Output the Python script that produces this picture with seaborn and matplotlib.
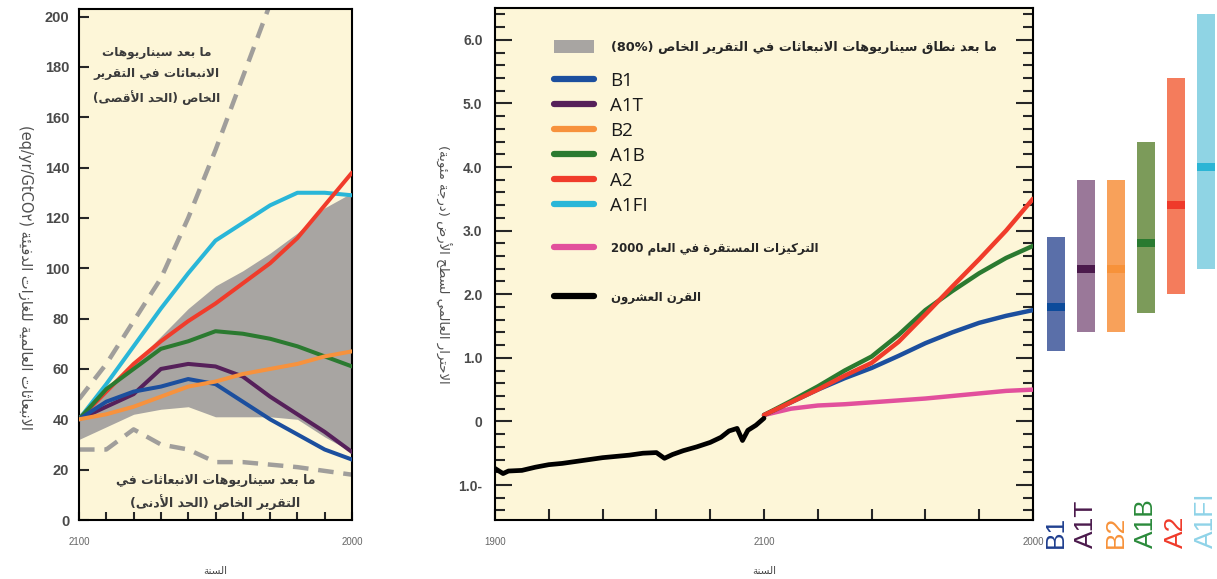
import re
import matplotlib
matplotlib.use("Agg")
import matplotlib.pyplot as plt
import matplotlib.transforms as mtransforms
from matplotlib.lines import Line2D
from matplotlib.patches import Patch
from matplotlib.ticker import MultipleLocator
import numpy as np
import pandas as pd
import seaborn as sns

# ---------------- data: emissions panel (GtCO2-eq / yr) ----------------
em_years = [2000, 2010, 2020, 2030, 2040, 2050, 2060, 2070, 2080, 2090, 2100]
em_A1FI = [40, 54, 69, 84, 98, 111, 118, 125, 130, 130, 129]
em_A2 = [40, 51, 62, 71, 79, 86, 94, 102, 112, 125, 138]
em_A1B = [40, 52, 60, 68, 71, 75, 74, 72, 69, 65, 61]
em_A1T = [40, 45, 50, 60, 62, 61, 57, 49, 42, 35, 27]
em_B1 = [40, 47, 51, 53, 56, 54, 47, 40, 34, 28, 24]
em_B2 = [40, 42, 45, 49, 53, 55, 58, 60, 62, 65, 67]
band_hi = [42, 52, 62, 73, 84, 93, 99, 106, 114, 124, 130]
band_lo = [32, 37, 42, 44, 45, 41, 41, 41, 40, 33, 27]
max_years = [2000, 2010, 2020, 2030, 2040, 2050, 2060, 2070, 2080]
max_vals = [48, 62, 79, 96, 120, 147, 176, 205, 235]
min_vals = [28, 28, 36, 30, 28, 23, 23, 22, 21, 19.5, 18]

# ---------------- data: temperature panel (deg C) ----------------
hist_years = [1900, 1903, 1905, 1910, 1915, 1920, 1925, 1930, 1935, 1940, 1945,
              1950, 1955, 1960, 1963, 1966, 1970, 1975, 1980, 1984, 1987, 1990,
              1992, 1994, 1997, 2000]
hist_temp = [-0.74, -0.82, -0.78, -0.77, -0.72, -0.68, -0.66, -0.63, -0.60, -0.57, -0.55,
             -0.53, -0.50, -0.49, -0.58, -0.52, -0.46, -0.40, -0.33, -0.25, -0.15, -0.11,
             -0.30, -0.14, -0.06, 0.05]
proj_years = [2000, 2010, 2020, 2030, 2040, 2050, 2060, 2070, 2080, 2090, 2100]
proj_B1 = [0.1, 0.3, 0.5, 0.68, 0.84, 1.03, 1.23, 1.4, 1.55, 1.66, 1.75]
proj_A1B = [0.1, 0.32, 0.55, 0.8, 1.02, 1.36, 1.75, 2.05, 2.33, 2.57, 2.76]
proj_A2 = [0.1, 0.3, 0.5, 0.72, 0.92, 1.25, 1.68, 2.12, 2.55, 3.0, 3.5]
proj_commit = [0.1, 0.2, 0.25, 0.27, 0.3, 0.33, 0.36, 0.4, 0.44, 0.48, 0.5]

# ---------------- data: likely ranges at 2100 ----------------
scen_names = ["B1", "A1T", "B2", "A1B", "A2", "A1FI"]
range_low = [1.1, 1.4, 1.4, 1.7, 2.0, 2.4]
range_high = [2.9, 3.8, 3.8, 4.4, 5.4, 6.4]
range_best = [1.8, 2.4, 2.4, 2.8, 3.4, 4.0]

# ---------------- colours ----------------
c_B1, c_A1T, c_B2 = "#1c4f9e", "#56205a", "#f7923d"
c_A1B, c_A2, c_A1FI = "#2b7a30", "#f03c2b", "#29b6d8"
c_pink = "#e2509c"
bar_light = ["#5a6fa9", "#9a7899", "#f8a15a", "#7c9b5a", "#f47c5c", "#8fd4e4"]
bar_dark = ["#0d4b9b", "#4b1a4c", "#f7923a", "#2a7a30", "#ef3a2a", "#2bb5d5"]
label_cols = ["#1f3f8f", "#4b1a4c", "#f7923a", "#2a8a3a", "#ef3a2a", "#8fd3e8"]
bg = "#fdf6d8"
band_col = "#a8a5a2"
dash_col = "#a09e9b"


# ---- small Arabic shaper (matplotlib has no complex text layout) ----
AR_FORMS = {
    'ء': (0xFE80, 1), 'آ': (0xFE81, 2), 'أ': (0xFE83, 2), 'ؤ': (0xFE85, 2), 'إ': (0xFE87, 2),
    'ئ': (0xFE89, 4), 'ا': (0xFE8D, 2), 'ب': (0xFE8F, 4), 'ة': (0xFE93, 2), 'ت': (0xFE95, 4),
    'ث': (0xFE99, 4), 'ج': (0xFE9D, 4), 'ح': (0xFEA1, 4), 'خ': (0xFEA5, 4), 'د': (0xFEA9, 2),
    'ذ': (0xFEAB, 2), 'ر': (0xFEAD, 2), 'ز': (0xFEAF, 2), 'س': (0xFEB1, 4), 'ش': (0xFEB5, 4),
    'ص': (0xFEB9, 4), 'ض': (0xFEBD, 4), 'ط': (0xFEC1, 4), 'ظ': (0xFEC5, 4), 'ع': (0xFEC9, 4),
    'غ': (0xFECD, 4), 'ف': (0xFED1, 4), 'ق': (0xFED5, 4), 'ك': (0xFED9, 4), 'ل': (0xFEDD, 4),
    'م': (0xFEE1, 4), 'ن': (0xFEE5, 4), 'ه': (0xFEE9, 4), 'و': (0xFEED, 2), 'ى': (0xFEEF, 2),
    'ي': (0xFEF1, 4),
}
LAM_ALEF = {'آ': 0xFEF5, 'أ': 0xFEF7, 'إ': 0xFEF9, 'ا': 0xFEFB}
LTR = r'[A-Za-z0-9%.٠-٩]'


def shape_line(s):
    chars = []
    i = 0
    while i < len(s):
        if s[i] == 'ل' and i + 1 < len(s) and s[i + 1] in LAM_ALEF:
            chars.append(('LA', s[i + 1]))
            i += 2
        else:
            chars.append(('C', s[i]))
            i += 1
    res = []
    for k, (kind, c) in enumerate(chars):
        prev = chars[k - 1] if k > 0 else None
        nxt = chars[k + 1] if k + 1 < len(chars) else None
        prev_j = prev is not None and prev[0] == 'C' and AR_FORMS.get(prev[1], (0, 0))[1] == 4
        if kind == 'LA':
            res.append(chr(LAM_ALEF[c] + (1 if prev_j else 0)))
            continue
        if c not in AR_FORMS:
            res.append(c)
            continue
        base, nf = AR_FORMS[c]
        if nf == 1:
            res.append(chr(base))
        elif nf == 2:
            res.append(chr(base + (1 if prev_j else 0)))
        else:
            nxt_j = nxt is not None and (nxt[0] == 'LA' or nxt[1] in AR_FORMS)
            idx = 3 if (prev_j and nxt_j) else 1 if prev_j else 2 if nxt_j else 0
            res.append(chr(base + idx))
    runs = re.findall(LTR + '+|' + r'[^A-Za-z0-9%.٠-٩]', ''.join(res))
    mirror = {'(': ')', ')': '('}
    return ''.join(mirror.get(r, r) for r in reversed(runs))


def ar(s):
    return '\n'.join(shape_line(line) for line in s.split('\n'))


# ---------------- style ----------------
sns.set_style("ticks")
plt.rcParams['font.family'] = ['Liberation Sans', 'DejaVu Sans']
AR_FONT = ['DejaVu Sans']
LAT_FONT = ['Open Sans', 'DejaVu Sans']
tick_col = "#4a4a4a"

fig = plt.figure(figsize=(12.17, 5.79), dpi=100)
W, H = 1217, 579


def px_axes(x0, y0, x1, y1):
    return fig.add_axes([x0 / W, 1 - y1 / H, (x1 - x0) / W, (y1 - y0) / H])


# ================= left panel: emissions =================
ax1 = px_axes(79, 9, 352, 520)
ax1.set_facecolor(bg)
ax1.fill_between(em_years, band_lo, band_hi, color=band_col, lw=0, zorder=1)
sns.lineplot(x=max_years, y=max_vals, ax=ax1, color=dash_col, lw=3.2,
             linestyle=(0, (3.5, 2.2)), zorder=2)
sns.lineplot(x=em_years, y=min_vals, ax=ax1, color=dash_col, lw=3.2,
             linestyle=(0, (3.5, 2.2)), zorder=2)
for vals, col in [(em_A1FI, c_A1FI), (em_A2, c_A2), (em_A1B, c_A1B),
                  (em_A1T, c_A1T), (em_B1, c_B1), (em_B2, c_B2)]:
    sns.lineplot(x=em_years, y=vals, ax=ax1, color=col, lw=2.9, zorder=3)

ax1.set_xlim(2000, 2100)
ax1.set_ylim(0, 203)
ax1.set_yticks(range(0, 201, 20))
ax1.set_xticks(range(2000, 2101, 10))
ax1.set_xticklabels(['2100'] + [''] * 9 + ['2000'])
ax1.tick_params(axis='y', direction='in', length=7, width=1.5, labelsize=10.5,
                labelcolor=tick_col, pad=7)
ax1.tick_params(axis='x', direction='in', length=6, width=1.5, labelsize=7,
                labelcolor="#666666", pad=12)
for lab in ax1.get_yticklabels():
    lab.set_fontweight('bold')
for sp in ax1.spines.values():
    sp.set_visible(True)
    sp.set_linewidth(1.5)
    sp.set_color('black')
ax1.set_xlabel(ar("السنة"), family=AR_FONT, fontsize=7.5, color="#444444", labelpad=14)
ax1.set_ylabel(ar("الانبعاثات العالمية للغازات الدفيئة (GtCO٢/yr/eq)"), family=AR_FONT,
               fontsize=10.5, color="#505050", rotation=270)
ax1.yaxis.set_label_coords(-0.225, 0.475)
ax1.text(0.285, 0.87, ar("ما بعد سيناريوهات\nالانبعاثات في التقرير\nالخاص (الحد الأقصى)"),
         transform=ax1.transAxes, family=AR_FONT, fontsize=8.7, fontweight='bold',
         color="#3a3a3a", ha='center', va='center', linespacing=1.85)
ax1.text(0.5, 0.055, ar("ما بعد سيناريوهات الانبعاثات في\nالتقرير الخاص (الحد الأدنى)"),
         transform=ax1.transAxes, family=AR_FONT, fontsize=9, fontweight='bold',
         color="#3a3a3a", ha='center', va='center', linespacing=1.55)

# ================= right panel: temperature =================
ax2 = px_axes(495, 8, 1033, 520)
ax2.set_facecolor(bg)
sns.lineplot(x=hist_years, y=hist_temp, ax=ax2, color='black', lw=3.4, zorder=4)
sns.lineplot(x=proj_years, y=proj_commit, ax=ax2, color=c_pink, lw=3.2, zorder=3)
sns.lineplot(x=proj_years, y=proj_B1, ax=ax2, color=c_B1, lw=3.2, zorder=3)
sns.lineplot(x=proj_years, y=proj_A1B, ax=ax2, color=c_A1B, lw=3.2, zorder=3)
sns.lineplot(x=proj_years, y=proj_A2, ax=ax2, color=c_A2, lw=3.2, zorder=3)

ax2.set_xlim(1900, 2100)
ax2.set_ylim(-1.55, 6.5)
ax2.set_xticks(range(1900, 2101, 20))
ax2.set_xticklabels(['1900', '', '', '', '', '2100', '', '', '', '', '2000'])
ax2.set_yticks(range(-1, 7))
ax2.set_yticklabels(['1.0-', '0', '1.0', '2.0', '3.0', '4.0', '5.0', '6.0'])
ax2.yaxis.set_minor_locator(MultipleLocator(0.2))
ax2.tick_params(axis='y', which='major', direction='in', length=12, width=1.5,
                left=True, right=True, labelsize=10, labelcolor=tick_col, pad=9)
ax2.tick_params(axis='y', which='minor', direction='in', length=7, width=1.5,
                left=True, right=True)
ax2.tick_params(axis='x', direction='in', length=8, width=1.5, labelsize=7,
                labelcolor="#666666", pad=12)
for lab in ax2.get_yticklabels():
    lab.set_fontweight('bold')
for sp in ax2.spines.values():
    sp.set_visible(True)
    sp.set_linewidth(1.5)
    sp.set_color('black')
ax2.set_xlabel(ar("السنة"), family=AR_FONT, fontsize=7.5, color="#444444", labelpad=14)
ax2.set_ylabel(ar("الاحترار العالمي لسطح الأرض (درجة مئوية)"), family=AR_FONT,
               fontsize=9.5, color="#505050", rotation=270)
ax2.yaxis.set_label_coords(-0.112, 0.5)

# legend: three blocks to reproduce the uneven row spacing
leg0 = ax2.legend([Patch(facecolor=band_col, edgecolor='none')],
                  [ar("ما بعد نطاق سيناريوهات الانبعاثات في التقرير الخاص (80%)")],
                  loc='center left', bbox_to_anchor=(0.11, 0.924), frameon=False,
                  prop={'family': AR_FONT, 'size': 9.3, 'weight': 'bold'},
                  handlelength=3.1, handleheight=1.15, handletextpad=1.3,
                  borderpad=0, borderaxespad=0)
ax2.add_artist(leg0)

h1 = [Line2D([], [], color=c, lw=4.5) for c in [c_B1, c_A1T, c_B2, c_A1B, c_A2, c_A1FI]]
leg1 = ax2.legend(h1, scen_names, loc='center left', bbox_to_anchor=(0.11, 0.7354),
                  frameon=False, prop={'family': LAT_FONT, 'size': 13.5},
                  handlelength=2.13, handletextpad=0.85, labelspacing=0.375,
                  borderpad=0, borderaxespad=0)
for t in leg1.get_texts():
    t.set_color("#1a1a1a")
ax2.add_artist(leg1)

h2 = [Line2D([], [], color=c_pink, lw=4.5), Line2D([], [], color='none'),
      Line2D([], [], color='black', lw=4.5)]
l2 = [ar("التركيزات المستقرة في العام 2000"), " ", ar("القرن العشرون")]
leg2 = ax2.legend(h2, l2, loc='center left', bbox_to_anchor=(0.11, 0.4834), frameon=False,
                  prop={'family': AR_FONT, 'size': 8.5, 'weight': 'bold'},
                  handlelength=3.4, handletextpad=1.4, labelspacing=0.95,
                  borderpad=0, borderaxespad=0)

# ================= likely-range bars =================
ax3 = px_axes(1040, 8, 1217, 520)
xs = np.arange(len(scen_names))
heights = np.array(range_high) - np.array(range_low)
ax3.bar(xs, heights, bottom=range_low, width=0.6, color=bar_light, lw=0)
ax3.bar(xs, 0.13, bottom=np.array(range_best) - 0.065, width=0.6, color=bar_dark, lw=0)
ax3.set_xlim(-0.53, 5.37)
ax3.set_ylim(-1.55, 6.5)
ax3.axis('off')
trans = mtransforms.blended_transform_factory(ax3.transData, ax3.transAxes)
for i, (name, col) in enumerate(zip(scen_names, label_cols)):
    ax3.text(i, -0.055, name, transform=trans, rotation=90, ha='center', va='bottom',
             fontsize=19, color=col, family=['Liberation Sans', 'DejaVu Sans'])

fig.savefig("out.png", dpi=100, facecolor='white')
